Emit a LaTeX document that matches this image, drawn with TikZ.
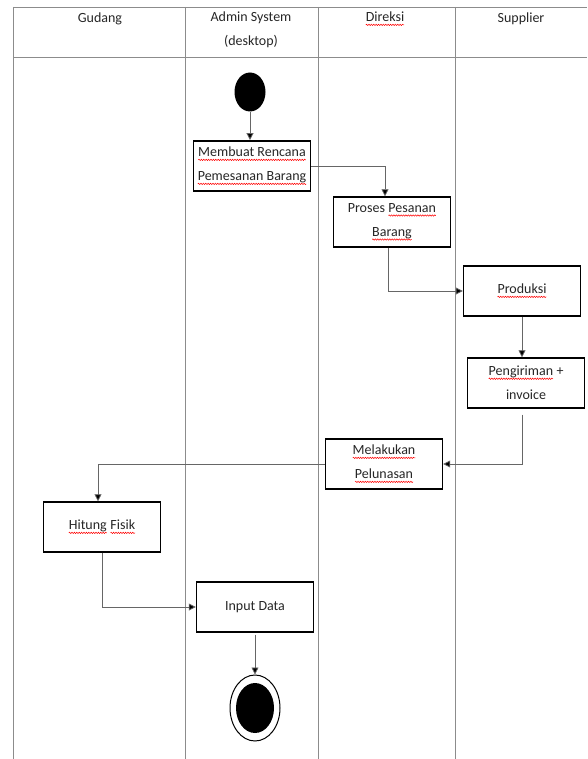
\documentclass[tikz,border=0pt]{standalone}
\usepackage{fontspec}
\setmainfont{Carlito}
\usetikzlibrary{arrows.meta,shapes.geometric,decorations.pathmorphing}

\tikzset{
  lane/.style={draw=black!45, line width=0.9pt},
  actbox/.style={draw, line width=1.4pt, minimum width=117pt, minimum height=50pt, align=center, inner sep=2pt},
  flow/.style={draw=black!60, line width=0.8pt, -{Triangle[length=7pt,width=7pt,fill=black]}},
  lanetitle/.style={align=center},
}
% red spell-check squiggle under a word
\newcommand{\typo}[1]{\tikz[baseline=(w.base)]{\node[rectangle,inner sep=0pt,outer sep=0pt,minimum width=0pt,minimum height=0pt](w){#1};\draw[red,line width=0.5pt,decorate,decoration={snake,amplitude=0.7pt,segment length=2.4pt}]([yshift=-3pt]w.base west)--([yshift=-3pt]w.base east);}}

\begin{document}
\begin{tikzpicture}[x=1pt,y=-1pt,font=\fontsize{14}{24}\selectfont,text=black!85]
  \useasboundingbox (0,0) rectangle (587,759);
  % swimlanes
  \draw[lane] (13,7) -- (587,7);
  \draw[lane] (13,57) -- (587,57);
  \foreach \lx in {13,185,318,455}
    \draw[lane] (\lx,7) -- (\lx,759);
  \node[lanetitle] (tgudang) at (100,19) {Gudang};
  \node[lanetitle] (tadmin) at (251,30) {Admin System\\(desktop)};
  \node[lanetitle] (tdireksi) at (385,19) {\typo{Direksi}};
  \node[lanetitle] (tsupplier) at (521,19) {Supplier};

  % activities
  \node[fill=black, ellipse, minimum width=31pt, minimum height=39pt, inner sep=0pt] (start) at (250,92) {};
  \node[actbox, line width=1.8pt] (membuat) at (252,166) {\typo{Membuat Rencana}\\\typo{Pemesanan Barang}};
  \node[actbox] (proses) at (392,222) {Proses \typo{Pesanan}\\\typo{Barang}};
  \node[actbox] (produksi) at (522,291) {\typo{Produksi}};
  \node[actbox] (kirim) at (526,383) {\typo{Pengiriman} +\\invoice};
  \node[actbox] (lunas) at (384,464) {\typo{Melakukan}\\\typo{Pelunasan}};
  \node[actbox] (hitung) at (102,527) {\typo{Hitung} \typo{Fisik}};
  \node[actbox] (input) at (255,607) {Input Data};
  \node[draw, ellipse, line width=1pt, minimum width=50pt, minimum height=66pt, inner sep=0pt] (finish) at (255,708) {};
  \fill (finish.center) ellipse [x radius=19pt, y radius=25pt];

  % flows
  \draw[flow] (start) -- (start |- membuat.north);
  \draw[flow] (membuat.east) -| ([xshift=-7pt]proses.north);
  \draw[flow] ([xshift=-4pt]proses.south) |- (produksi.west);
  \draw[flow] (produksi.south) -- (produksi.south |- kirim.north);
  \draw[flow] ([yshift=-6pt]kirim.south -| produksi.south) |- (lunas.east);
  \draw[flow] (lunas.west) -| ([xshift=-4pt]hitung.north);
  \draw[flow] (hitung.south) |- (input.west);
  \draw[flow] ([yshift=-2pt]input.south) -- (finish.north);
\end{tikzpicture}
\end{document}
